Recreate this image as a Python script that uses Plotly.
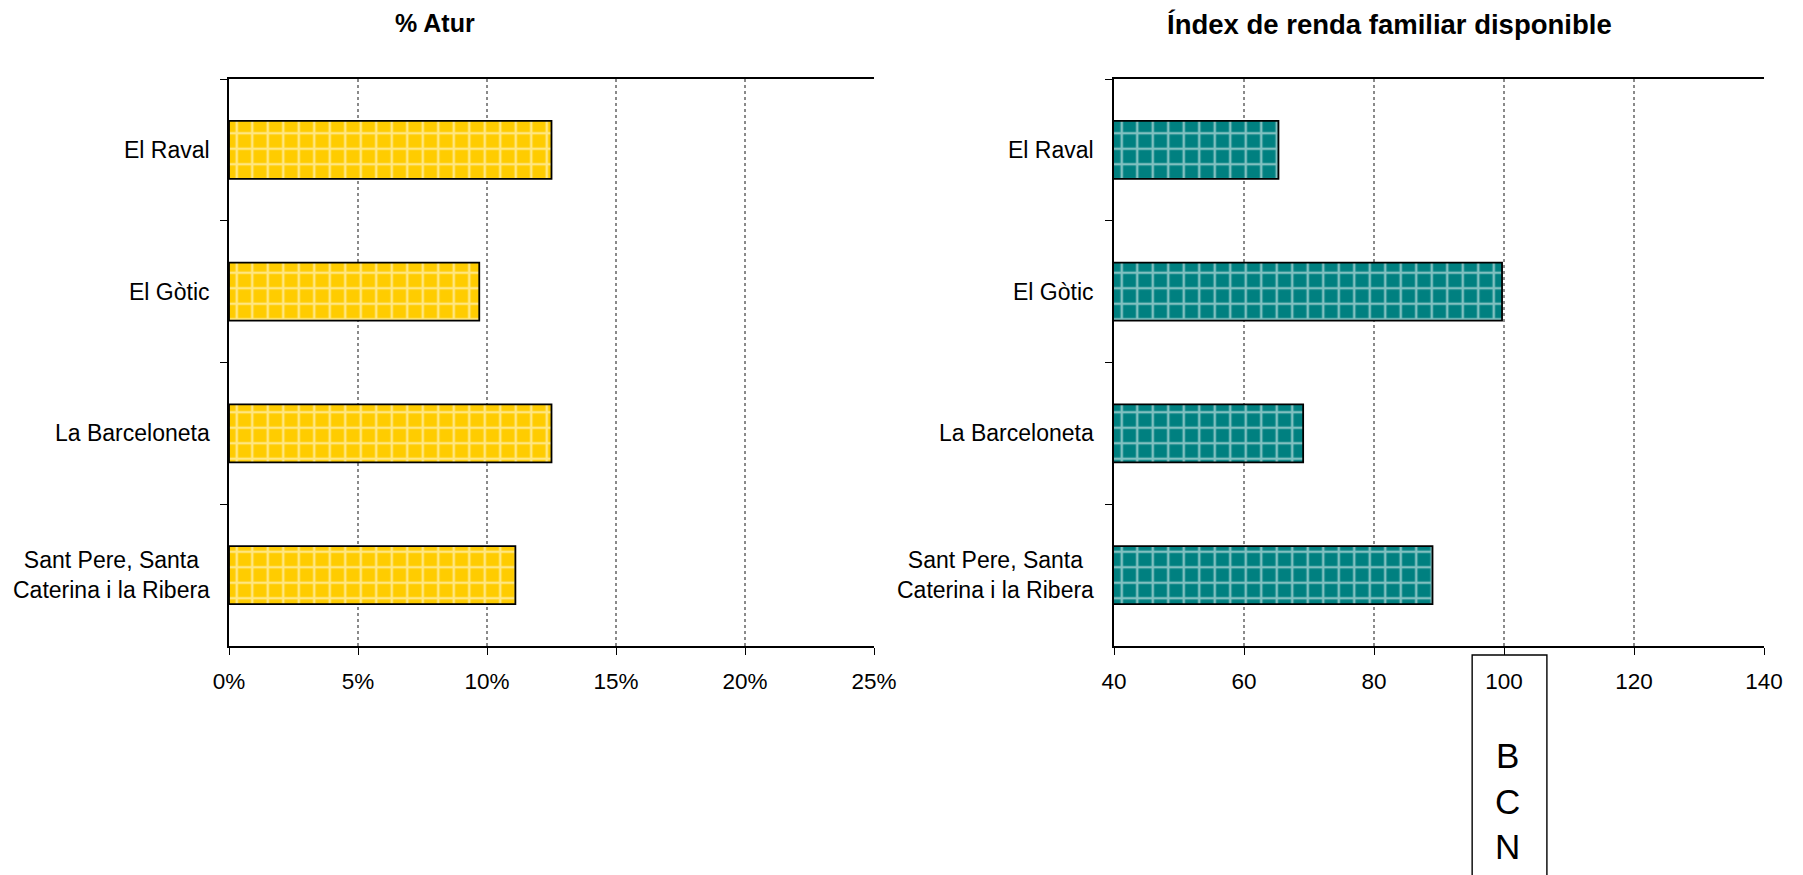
import plotly.graph_objects as go

# ---- data ----
districts = ["El Raval", "El Gòtic", "La Barceloneta", "Sant Pere, Santa<br>Caterina i la Ribera"]
atur = [0.125, 0.097, 0.125, 0.111]
renda = [65.3, 99.7, 69.1, 89.0]
bcn_index = 100
atur_ticks = [0, 0.05, 0.10, 0.15, 0.20, 0.25]
renda_ticks = [40, 60, 80, 100, 120, 140]
title_left = "% Atur"
title_right = "Índex de renda familiar disponible"
bcn_label = "B<br>C<br>N"

# page body has an 8px margin: figure is sized/positioned to fit the 1803x875 window
OFF = 8
W, H = 1803 - OFF, 875 - OFF
FONT = "Arial, Liberation Sans, Helvetica, sans-serif"
YELLOW = "#FFCC00"
TEAL = "#008080"


def px(x):
    return (x - OFF) / W


def py(y):
    return 1 - (y - OFF) / H


dom1 = [px(229), px(874)]
dom2 = [px(1114), px(1764)]
ydom = [py(646), py(79)]

fig = go.Figure()


def pattern_bar(x, y, color, xa, ya):
    return go.Bar(
        x=x, y=y, orientation="h", xaxis=xa, yaxis=ya, width=0.41,
        marker=dict(
            color=color,
            line=dict(color="black", width=1.8),
            pattern=dict(shape="+", size=15.5, solidity=0.3,
                         fgcolor="white", bgcolor=color),
        ),
        showlegend=False, hoverinfo="x+y",
    )


fig.add_trace(pattern_bar(atur, districts, YELLOW, "x", "y"))
fig.add_trace(pattern_bar(renda, districts, TEAL, "x2", "y2"))

xcommon = dict(
    showline=True, linecolor="black", linewidth=1.8, mirror=True,
    ticks="outside", ticklen=7, tickwidth=1.4, tickcolor="black",
    ticklabelstandoff=7,
    showgrid=True, gridcolor="#8a8a8a", gridwidth=1.8, griddash="dot",
    zeroline=False, tickfont=dict(family=FONT, size=22.5, color="black"),
    fixedrange=True, automargin=False,
)
ycommon = dict(
    type="category", categoryorder="array", categoryarray=districts,
    autorange="reversed", showline=True, linecolor="black", linewidth=1.8,
    ticks="outside", ticklen=7, tickwidth=1.4, tickcolor="black",
    tickson="boundaries", showticklabels=False, showgrid=False,
    zeroline=False, fixedrange=True, automargin=False, domain=ydom,
)

fig.update_layout(
    width=W, height=H,
    margin=dict(l=0, r=0, t=0, b=0),
    paper_bgcolor="white", plot_bgcolor="white",
    font=dict(family=FONT, size=22, color="black"),
    xaxis=dict(domain=dom1, anchor="y", range=[0, 0.25], tickvals=atur_ticks,
               tickformat=".0%", **xcommon),
    yaxis=dict(anchor="x", **ycommon),
    xaxis2=dict(domain=dom2, anchor="y2", range=[40, 140], tickvals=renda_ticks,
                **xcommon),
    yaxis2=dict(anchor="x2", **ycommon),
)

annotations = []
# category labels (centered multi-line, right-anchored next to axis)
for d in districts:
    annotations.append(dict(text=d, x=dom1[0] - 17 / W, xref="paper", y=d, yref="y",
                            xanchor="right", yanchor="middle", align="center",
                            showarrow=False, font=dict(family=FONT, size=23)))
    annotations.append(dict(text=d, x=dom2[0] - 18 / W, xref="paper", y=d, yref="y2",
                            xanchor="right", yanchor="middle", align="center",
                            showarrow=False, font=dict(family=FONT, size=23)))
# titles
annotations.append(dict(text="<b>" + title_left + "</b>", x=px(435), y=1,
                        xref="paper", yref="paper", xanchor="center", yanchor="top",
                        borderpad=0, showarrow=False, font=dict(family=FONT, size=25)))
annotations.append(dict(text="<b>" + title_right + "</b>", x=px(1389), y=1,
                        xref="paper", yref="paper", xanchor="center", yanchor="top",
                        borderpad=0, showarrow=False, font=dict(family=FONT, size=27.5)))
# BCN reference label
annotations.append(dict(text=bcn_label, x=bcn_index + 0.6, xref="x2", y=py(801),
                        yref="paper", xanchor="center", yanchor="middle",
                        showarrow=False, font=dict(family=FONT, size=35)))
fig.update_layout(annotations=annotations)

# BCN reference box
fig.add_shape(type="rect", xref="x2", yref="paper",
              x0=bcn_index - 4.9, x1=bcn_index + 6.6,
              y0=-0.05, y1=py(655),
              line=dict(color="black", width=1.4), fillcolor="rgba(0,0,0,0)",
              layer="above")

fig.write_html("out.html")
